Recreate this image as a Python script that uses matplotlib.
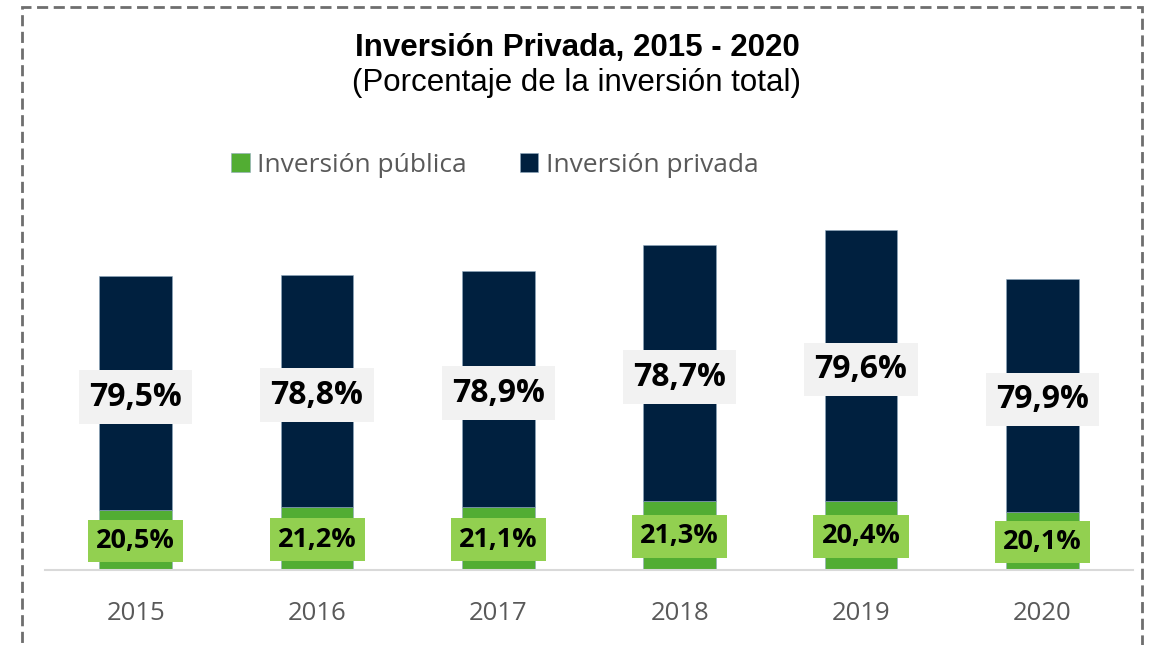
"""Inversión privada vs pública, 2015 - 2020 (stacked bars)."""
import matplotlib

matplotlib.use("Agg")
import matplotlib.pyplot as plt
from matplotlib.patches import Rectangle
import numpy as np

years = ["2015", "2016", "2017", "2018", "2019", "2020"]
# bar segment sizes (arbitrary units)
publica = [60, 63, 63, 69, 69, 58]
privada = [234, 232, 236, 256, 271, 233]
# printed shares
publica_pct = ["20,5%", "21,2%", "21,1%", "21,3%", "20,4%", "20,1%"]
privada_pct = ["79,5%", "78,8%", "78,9%", "78,7%", "79,6%", "79,9%"]

GREEN = "#52AD33"
NAVY = "#00203F"
GREEN_BOX = "#92D050"
GRAY_BOX = "#F2F2F2"
TEXT_GRAY = "#595959"

W, H = 1152, 645
fig = plt.figure(figsize=(W / 100, H / 100), dpi=100)

# axes: baseline at y=570 px, 1 unit = 1 px
ax = fig.add_axes([45 / W, (H - 570) / H, (1133 - 45) / W, 370 / H])
x = np.arange(len(years))
ax.bar(x, publica, width=0.40, color=GREEN, edgecolor="#8FA9C0", linewidth=0.4, label="Inversión pública")
ax.bar(x, privada, width=0.40, bottom=publica, color=NAVY, edgecolor="#8FA9C0", linewidth=0.4,
       label="Inversión privada")
ax.set_xlim(-0.5, len(years) - 0.5)
ax.set_ylim(0, 370)

for i in range(len(years)):
    ax.text(x[i], publica[i] / 2 - 1, publica_pct[i], ha="center", va="center", fontsize=19.5,
            fontweight="bold", family="Open Sans", color="black",
            bbox=dict(boxstyle="square,pad=0.3", facecolor=GREEN_BOX, edgecolor="none"))
    ax.text(x[i], publica[i] + privada[i] / 2 - 4, privada_pct[i], ha="center", va="center", fontsize=23,
            fontweight="bold", family="Open Sans", color="black",
            bbox=dict(boxstyle="square,pad=0.32", facecolor=GRAY_BOX, edgecolor="none"))

for s in ["top", "left", "right"]:
    ax.spines[s].set_visible(False)
ax.spines["bottom"].set_color("#D9D9D9")
ax.spines["bottom"].set_linewidth(1.5)
ax.set_yticks([])
ax.set_xticks(x)
ax.set_xticklabels(years, fontsize=18.5, family="Open Sans", color=TEXT_GRAY)
ax.tick_params(axis="x", length=0, pad=22)

fig.text(577 / W, 1 - 48 / H, "Inversión Privada, 2015 - 2020", ha="center", va="center",
         fontsize=22.5, fontweight="bold", family="Liberation Sans")
fig.text(577 / W, 1 - 83 / H, "(Porcentaje de la inversión total)", ha="center", va="center",
         fontsize=22.5, family="Liberation Sans")

leg = fig.legend(loc="center", bbox_to_anchor=(495 / W, 1 - 165 / H), ncol=2, frameon=False,
                 prop={"family": "Open Sans", "size": 19}, handlelength=0.7, handleheight=0.7,
                 handletextpad=0.3, columnspacing=2.0)
for t in leg.get_texts():
    t.set_color(TEXT_GRAY)

# dashed frame around the whole chart
fig.patches.append(Rectangle((22 / W, -0.05), (1142 - 22) / W, 1.05 - 7 / H, transform=fig.transFigure,
                             fill=False, edgecolor="#6E6E6E", linewidth=2, linestyle=(0, (4, 2))))

fig.savefig("out.png", dpi=100)
plt.close(fig)
